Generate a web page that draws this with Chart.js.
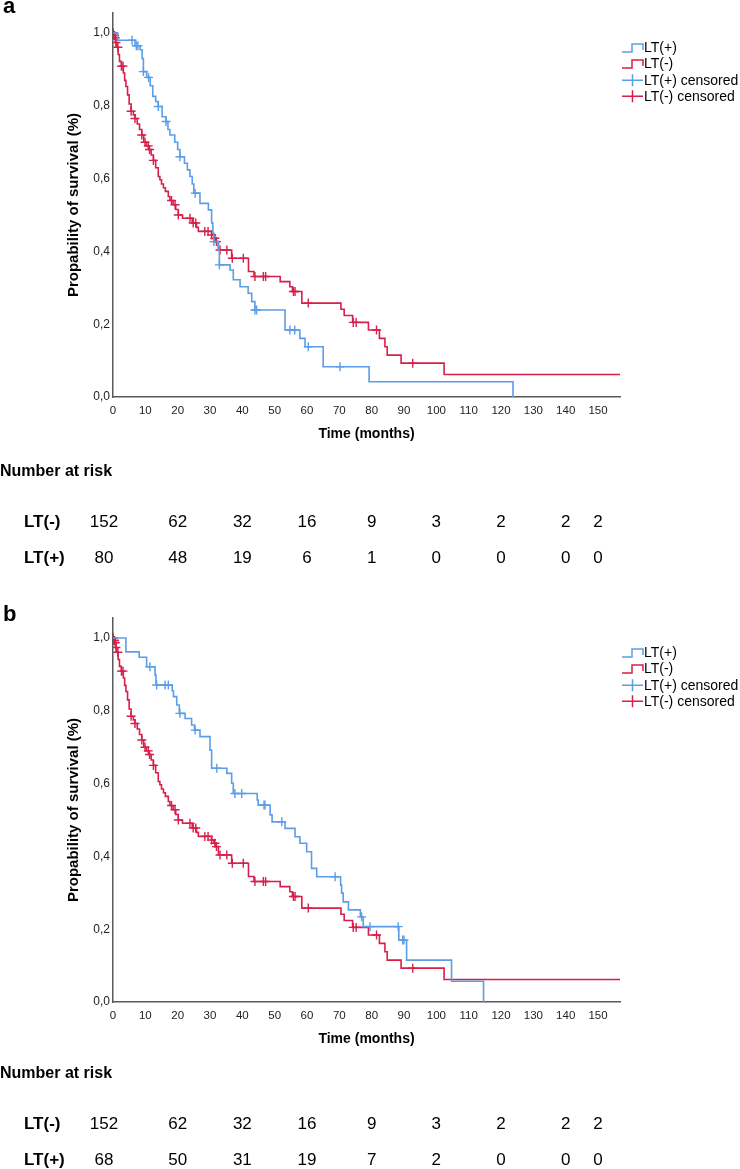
<!DOCTYPE html>
<html>
<head>
<meta charset="utf-8">
<script src="https://cdn.jsdelivr.net/npm/chart.js@4.4.0/dist/chart.umd.min.js"></script>
<style>
  html, body { margin: 0; padding: 0; background: #fff; }
  body { width: 740px; height: 1169px; position: relative; overflow: hidden; }
  .panel { position: absolute; left: 0; width: 740px; }
</style>
</head>
<body>
<div class="panel" style="top:0;height:605px"><canvas id="chartA"></canvas></div>
<div class="panel" style="top:605px;height:564px"><canvas id="chartB"></canvas></div>
<script>
// Kaplan-Meier: tiempos de evento (meses) y supervivencia tras cada evento
// LT(-) es el mismo grupo en los dos paneles
const minusTimes = [0.3, 0.6, 0.9, 1.2, 1.6, 2.0, 2.6, 3.2, 3.6, 4.0, 4.5, 5.0, 5.6, 6.3, 6.8, 7.5, 8.2, 8.9, 9.5, 10.3,
  11.1, 11.8, 12.5, 13.2, 14.0, 14.5, 15.0, 15.6, 16.2, 17.1, 17.6, 18.6, 19.4, 20.2, 21.5, 24.5, 25.8, 26.4, 30.5, 31.2,
  31.8, 32.6, 36.7, 41.9, 43.6, 51.7, 54.7, 55.5, 58.4, 70.5, 71.5, 74.1, 79.0, 82.4, 84.1, 84.8, 89.1, 102.4, 156.8];
const minusSurv = [0.993, 0.987, 0.974, 0.961, 0.941, 0.922, 0.909, 0.89, 0.87, 0.853, 0.83, 0.805, 0.785, 0.775, 0.765, 0.75, 0.735, 0.72, 0.70, 0.69,
  0.68, 0.665, 0.65, 0.63, 0.606, 0.597, 0.585, 0.575, 0.565, 0.551, 0.54, 0.528, 0.515, 0.50, 0.491, 0.478, 0.466, 0.455, 0.445, 0.436,
  0.427, 0.404, 0.381, 0.345, 0.331, 0.317, 0.303, 0.29, 0.258, 0.241, 0.224, 0.205, 0.184, 0.161, 0.138, 0.115, 0.093, 0.062, 0.062];
const minusCens = [0.1, 0.3, 0.5, 0.7, 0.9, 1.5, 2.6, 3.1, 5.6, 6.8, 8.9, 9.9, 10.9, 11.3, 12.5, 18.1, 19.2, 20.2, 23.8, 24.8,
  25.6, 28.4, 29.4, 30.5, 31.5, 32.0, 33.1, 35.2, 36.9, 40.3, 43.9, 46.5, 47.2, 55.8, 56.3, 60.4, 74.3, 75.2, 81.5, 92.7];

// Panel a: LT(+)
const plusATimes = [1.5, 6.8, 8.4, 9.0, 9.4, 10.4, 11.5, 12.3, 13.2, 14.0, 15.2, 16.4, 17.0, 17.6, 19.1, 20.0, 20.7, 22.1, 23.0, 23.8,
  24.5, 25.0, 26.9, 29.5, 30.5, 30.9, 31.2, 32.6, 32.9, 36.2, 37.2, 39.3, 41.8, 42.9, 43.9, 53.2, 57.8, 59.4, 65.0, 79.2, 123.7];
const plusASurv = [0.98, 0.965, 0.954, 0.93, 0.894, 0.878, 0.855, 0.826, 0.812, 0.798, 0.77, 0.757, 0.735, 0.72, 0.70, 0.68, 0.66, 0.642, 0.624, 0.606,
  0.585, 0.56, 0.532, 0.514, 0.478, 0.45, 0.427, 0.404, 0.363, 0.349, 0.322, 0.303, 0.285, 0.262, 0.239, 0.184, 0.161, 0.138, 0.083, 0.042, 0];
const plusACens = [5.9, 7.2, 7.7, 9.4, 11.0, 14.0, 16.4, 20.7, 25.4, 31.2, 32.9, 43.9, 44.4, 54.7, 56.2, 60.4, 70.2];

// Panel b: LT(+)
const plusBTimes = [4.0, 8.1, 10.4, 13.0, 13.3, 18.3, 18.7, 19.7, 20.5, 22.3, 24.3, 25.2, 26.9, 30.0, 30.5, 35.2, 36.7, 37.2, 44.6, 44.9,
  48.6, 49.2, 53.2, 56.3, 57.8, 59.9, 61.4, 63.0, 70.4, 70.7, 71.2, 72.8, 76.5, 77.4, 88.4, 90.8, 104.7, 114.6];
const plusBSurv = [0.962, 0.947, 0.921, 0.898, 0.871, 0.855, 0.839, 0.816, 0.793, 0.779, 0.761, 0.747, 0.729, 0.692, 0.642, 0.628, 0.601, 0.573, 0.555, 0.541,
  0.514, 0.495, 0.477, 0.454, 0.436, 0.413, 0.367, 0.344, 0.321, 0.299, 0.275, 0.253, 0.234, 0.207, 0.17, 0.115, 0.057, 0];
const plusBCens = [11.4, 13.5, 16.1, 17.1, 20.7, 25.4, 32.1, 37.7, 39.8, 46.7, 47.0, 52.2, 68.7, 76.9, 79.5, 88.2, 89.6, 90.0];

// Numero en riesgo
const riskTimes = [0, 20, 40, 60, 80, 100, 120, 140, 150];
const riskMinus = [152, 62, 32, 16, 9, 3, 2, 2, 2];
const riskPlusA = [80, 48, 19, 6, 1, 0, 0, 0, 0];
const riskPlusB = [68, 50, 31, 19, 7, 2, 0, 0, 0];

const BLUE = "#5c9de8";
const RED = "#d81f4b";
const FONT = "'Liberation Sans', Arial, Helvetica, sans-serif";

Chart.defaults.font.family = FONT;
Chart.defaults.color = "#222";

function curvePoints(times, surv) {
  return [{ x: 0, y: 1 }].concat(times.map((t, i) => ({ x: t, y: surv[i] })));
}
// la marca de censura cae sobre la curva: valor vigente en ese tiempo
function censorPoints(cens, times, surv) {
  return cens.map(t => {
    let v = 1;
    times.forEach((tt, i) => { if (tt <= t) v = surv[i]; });
    return { x: t, y: v };
  });
}

const extras = {
  id: "kmExtras",
  afterDraw(chart, args, opts) {
    const ctx = chart.ctx;
    const xs = chart.scales.x;
    ctx.save();
    // letra del panel
    ctx.fillStyle = "#000";
    ctx.font = "bold 22px " + FONT;
    ctx.textBaseline = "alphabetic";
    ctx.textAlign = "left";
    ctx.fillText(opts.letter, 3, opts.letterY);

    // leyenda
    ctx.font = "14px " + FONT;
    ctx.textBaseline = "middle";
    chart.data.datasets.forEach((ds, i) => {
      const y = 48 + i * 16.1;
      const x0 = 622;
      ctx.strokeStyle = ds.borderColor;
      ctx.lineWidth = 1.5;
      ctx.beginPath();
      if (ds.showLine === false) {
        ctx.moveTo(x0, y); ctx.lineTo(x0 + 21, y);
        ctx.moveTo(x0 + 10.5, y - 6); ctx.lineTo(x0 + 10.5, y + 6);
      } else {
        ctx.moveTo(x0, y + 4); ctx.lineTo(x0 + 10, y + 4); ctx.lineTo(x0 + 10, y - 4);
        ctx.lineTo(x0 + 21, y - 4); ctx.lineTo(x0 + 21, y + 2);
      }
      ctx.stroke();
      ctx.fillStyle = "#000";
      ctx.fillText(ds.label, 644, y + 0.5);
    });

    // tabla de numero en riesgo
    const t0 = opts.tableY;
    ctx.textBaseline = "alphabetic";
    ctx.font = "bold 16px " + FONT;
    ctx.fillText("Number at risk", 0, t0);
    const rows = [["LT(-)", riskMinus, t0 + 51], ["LT(+)", opts.riskPlus, t0 + 87]];
    rows.forEach(([label, vals, y]) => {
      ctx.textAlign = "left";
      ctx.font = "bold 17px " + FONT;
      ctx.fillText(label, 24, y);
      ctx.textAlign = "center";
      ctx.font = "17px " + FONT;
      vals.forEach((v, i) => {
        const px = xs.getPixelForValue(riskTimes[i]) - (i === 0 ? 9 : 0);
        ctx.fillText(String(v), px, y);
      });
    });
    ctx.restore();
  }
};

function makeChart(id, plusTimes, plusSurv, plusCens, riskPlus, letter, letterY, tableY, canvasH) {
  return new Chart(document.getElementById(id), {
    type: "line",
    data: {
      datasets: [
        { label: "LT(+)", data: curvePoints(plusTimes, plusSurv), borderColor: BLUE, borderWidth: 1.6, stepped: "before", pointRadius: 0, fill: false },
        { label: "LT(-)", data: curvePoints(minusTimes, minusSurv), borderColor: RED, borderWidth: 1.6, stepped: "before", pointRadius: 0, fill: false },
        { label: "LT(+) censored", data: censorPoints(plusCens, plusTimes, plusSurv), showLine: false, borderColor: BLUE, pointStyle: "cross", pointRadius: 4.5, pointBorderWidth: 1.4 },
        { label: "LT(-) censored", data: censorPoints(minusCens, minusTimes, minusSurv), showLine: false, borderColor: RED, pointStyle: "cross", pointRadius: 4.5, pointBorderWidth: 1.4 }
      ]
    },
    options: {
      responsive: true,
      maintainAspectRatio: false,
      animation: false,
      events: [],
      layout: { padding: { left: 63, right: 120, top: 13, bottom: canvasH - 397 - 46 } },
      plugins: {
        legend: { display: false },
        tooltip: { enabled: false },
        kmExtras: { letter, letterY, tableY, riskPlus }
      },
      scales: {
        x: {
          type: "linear", min: 0, max: 156.8,
          grid: { display: false, drawTicks: false },
          border: { display: true, color: "#595959", width: 1.5 },
          ticks: { stepSize: 10, includeBounds: false, padding: 7, font: { size: 11.5 }, color: "#222", maxRotation: 0, autoSkip: false },
          title: { display: true, text: "Time (months)", font: { size: 14, weight: "bold" }, color: "#000", padding: { top: 0, bottom: 0 } },
          afterFit: s => { s.height = 46; }
        },
        y: {
          type: "linear", min: 0, max: 1.055,
          grid: { display: false, drawTicks: false },
          border: { display: true, color: "#595959", width: 1.5 },
          ticks: { stepSize: 0.2, includeBounds: false, padding: 3, font: { size: 12 }, color: "#222",
            callback: v => v.toFixed(1).replace(".", ",") },
          title: { display: true, text: "Propability of survival (%)", font: { size: 15, weight: "bold" }, color: "#000", padding: { top: 2, bottom: 0 } },
          afterFit: s => { s.width = 50; }
        }
      }
    },
    plugins: [extras]
  });
}

makeChart("chartA", plusATimes, plusASurv, plusACens, riskPlusA, "a", 13, 476, 605);
makeChart("chartB", plusBTimes, plusBSurv, plusBCens, riskPlusB, "b", 16, 473, 564);
</script>
</body>
</html>
